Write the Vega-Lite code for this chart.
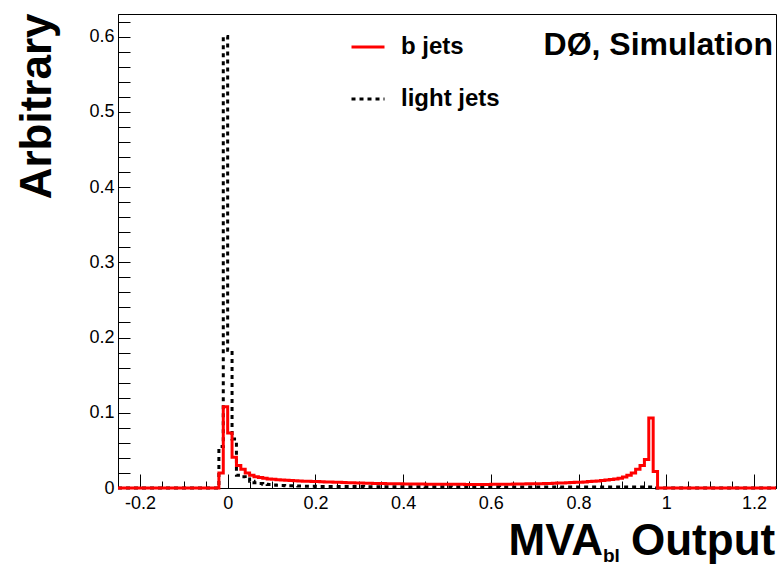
{
  "$schema": "https://vega.github.io/schema/vega-lite/v6.json",
  "width": 658,
  "height": 474,
  "autosize": "none",
  "padding": {"left": 118, "top": 14, "right": 6, "bottom": 78},
  "background": "white",
  "config": {
    "font": "Liberation Sans",
    "view": {"stroke": "black", "strokeWidth": 1},
    "axis": {"grid": false, "domainColor": "black", "tickColor": "black", "labelColor": "black", "titleColor": "black", "labelFont": "Liberation Sans", "titleFont": "Liberation Sans"}
  },
  "resolve": {"axis": {"x": "independent", "y": "independent"}},
  "layer": [
    {
      "data": {
        "values": [
          {"x": -0.25, "v": 0, "s": "light jets"},
          {"x": -0.02, "v": 0.055, "s": "light jets"},
          {"x": -0.01, "v": 0.6, "s": "light jets"},
          {"x": 0.0, "v": 0.183, "s": "light jets"},
          {"x": 0.01, "v": 0.065, "s": "light jets"},
          {"x": 0.02, "v": 0.017, "s": "light jets"},
          {"x": 0.03, "v": 0.015, "s": "light jets"},
          {"x": 0.04, "v": 0.012, "s": "light jets"},
          {"x": 0.05, "v": 0.009, "s": "light jets"},
          {"x": 0.06, "v": 0.007, "s": "light jets"},
          {"x": 0.07, "v": 0.006, "s": "light jets"},
          {"x": 0.08, "v": 0.005, "s": "light jets"},
          {"x": 0.09, "v": 0.0045, "s": "light jets"},
          {"x": 0.1, "v": 0.004, "s": "light jets"},
          {"x": 0.11, "v": 0.0037, "s": "light jets"},
          {"x": 0.12, "v": 0.0034, "s": "light jets"},
          {"x": 0.13, "v": 0.0031, "s": "light jets"},
          {"x": 0.14, "v": 0.0029, "s": "light jets"},
          {"x": 0.15, "v": 0.0027, "s": "light jets"},
          {"x": 0.16, "v": 0.0025, "s": "light jets"},
          {"x": 0.17, "v": 0.0024, "s": "light jets"},
          {"x": 0.18, "v": 0.0023, "s": "light jets"},
          {"x": 0.19, "v": 0.0022, "s": "light jets"},
          {"x": 0.2, "v": 0.0021, "s": "light jets"},
          {"x": 0.21, "v": 0.002, "s": "light jets"},
          {"x": 0.22, "v": 0.002, "s": "light jets"},
          {"x": 0.23, "v": 0.002, "s": "light jets"},
          {"x": 0.24, "v": 0.002, "s": "light jets"},
          {"x": 0.25, "v": 0.002, "s": "light jets"},
          {"x": 0.26, "v": 0.002, "s": "light jets"},
          {"x": 0.27, "v": 0.002, "s": "light jets"},
          {"x": 0.28, "v": 0.0019, "s": "light jets"},
          {"x": 0.29, "v": 0.0019, "s": "light jets"},
          {"x": 0.3, "v": 0.0019, "s": "light jets"},
          {"x": 0.31, "v": 0.0018, "s": "light jets"},
          {"x": 0.32, "v": 0.0018, "s": "light jets"},
          {"x": 0.33, "v": 0.0018, "s": "light jets"},
          {"x": 0.34, "v": 0.0018, "s": "light jets"},
          {"x": 0.35, "v": 0.0018, "s": "light jets"},
          {"x": 0.36, "v": 0.0018, "s": "light jets"},
          {"x": 0.37, "v": 0.0018, "s": "light jets"},
          {"x": 0.38, "v": 0.0017, "s": "light jets"},
          {"x": 0.39, "v": 0.0017, "s": "light jets"},
          {"x": 0.4, "v": 0.0017, "s": "light jets"},
          {"x": 0.41, "v": 0.0017, "s": "light jets"},
          {"x": 0.42, "v": 0.0017, "s": "light jets"},
          {"x": 0.43, "v": 0.0017, "s": "light jets"},
          {"x": 0.44, "v": 0.0017, "s": "light jets"},
          {"x": 0.45, "v": 0.0016, "s": "light jets"},
          {"x": 0.46, "v": 0.0016, "s": "light jets"},
          {"x": 0.47, "v": 0.0016, "s": "light jets"},
          {"x": 0.48, "v": 0.0016, "s": "light jets"},
          {"x": 0.49, "v": 0.0016, "s": "light jets"},
          {"x": 0.5, "v": 0.0016, "s": "light jets"},
          {"x": 0.51, "v": 0.0015, "s": "light jets"},
          {"x": 0.52, "v": 0.0015, "s": "light jets"},
          {"x": 0.53, "v": 0.0015, "s": "light jets"},
          {"x": 0.54, "v": 0.0015, "s": "light jets"},
          {"x": 0.55, "v": 0.0015, "s": "light jets"},
          {"x": 0.56, "v": 0.0015, "s": "light jets"},
          {"x": 0.57, "v": 0.0015, "s": "light jets"},
          {"x": 0.58, "v": 0.0015, "s": "light jets"},
          {"x": 0.59, "v": 0.0015, "s": "light jets"},
          {"x": 0.6, "v": 0.0015, "s": "light jets"},
          {"x": 0.61, "v": 0.0015, "s": "light jets"},
          {"x": 0.62, "v": 0.0014, "s": "light jets"},
          {"x": 0.63, "v": 0.0014, "s": "light jets"},
          {"x": 0.64, "v": 0.0014, "s": "light jets"},
          {"x": 0.65, "v": 0.0014, "s": "light jets"},
          {"x": 0.66, "v": 0.0014, "s": "light jets"},
          {"x": 0.67, "v": 0.0014, "s": "light jets"},
          {"x": 0.68, "v": 0.0014, "s": "light jets"},
          {"x": 0.69, "v": 0.0014, "s": "light jets"},
          {"x": 0.7, "v": 0.0014, "s": "light jets"},
          {"x": 0.71, "v": 0.0014, "s": "light jets"},
          {"x": 0.72, "v": 0.0014, "s": "light jets"},
          {"x": 0.73, "v": 0.0014, "s": "light jets"},
          {"x": 0.74, "v": 0.0014, "s": "light jets"},
          {"x": 0.75, "v": 0.0014, "s": "light jets"},
          {"x": 0.76, "v": 0.0013, "s": "light jets"},
          {"x": 0.77, "v": 0.0013, "s": "light jets"},
          {"x": 0.78, "v": 0.0013, "s": "light jets"},
          {"x": 0.79, "v": 0.0013, "s": "light jets"},
          {"x": 0.8, "v": 0.0013, "s": "light jets"},
          {"x": 0.81, "v": 0.0013, "s": "light jets"},
          {"x": 0.82, "v": 0.0013, "s": "light jets"},
          {"x": 0.83, "v": 0.0013, "s": "light jets"},
          {"x": 0.84, "v": 0.0013, "s": "light jets"},
          {"x": 0.85, "v": 0.0013, "s": "light jets"},
          {"x": 0.86, "v": 0.0013, "s": "light jets"},
          {"x": 0.87, "v": 0.0013, "s": "light jets"},
          {"x": 0.88, "v": 0.0013, "s": "light jets"},
          {"x": 0.89, "v": 0.0013, "s": "light jets"},
          {"x": 0.9, "v": 0.0013, "s": "light jets"},
          {"x": 0.91, "v": 0.0013, "s": "light jets"},
          {"x": 0.92, "v": 0.0013, "s": "light jets"},
          {"x": 0.93, "v": 0.0013, "s": "light jets"},
          {"x": 0.94, "v": 0.0013, "s": "light jets"},
          {"x": 0.95, "v": 0.0013, "s": "light jets"},
          {"x": 0.96, "v": 0.0013, "s": "light jets"},
          {"x": 0.97, "v": 0, "s": "light jets"},
          {"x": 1.25, "v": 0, "s": "light jets"},
          {"x": -0.25, "v": 0, "s": "b jets"},
          {"x": -0.02, "v": 0.02, "s": "b jets"},
          {"x": -0.01, "v": 0.108, "s": "b jets"},
          {"x": 0.0, "v": 0.073, "s": "b jets"},
          {"x": 0.01, "v": 0.041, "s": "b jets"},
          {"x": 0.02, "v": 0.03, "s": "b jets"},
          {"x": 0.03, "v": 0.025, "s": "b jets"},
          {"x": 0.04, "v": 0.02, "s": "b jets"},
          {"x": 0.05, "v": 0.017, "s": "b jets"},
          {"x": 0.06, "v": 0.015, "s": "b jets"},
          {"x": 0.07, "v": 0.014, "s": "b jets"},
          {"x": 0.08, "v": 0.013, "s": "b jets"},
          {"x": 0.09, "v": 0.012, "s": "b jets"},
          {"x": 0.1, "v": 0.0115, "s": "b jets"},
          {"x": 0.11, "v": 0.011, "s": "b jets"},
          {"x": 0.12, "v": 0.0106, "s": "b jets"},
          {"x": 0.13, "v": 0.0102, "s": "b jets"},
          {"x": 0.14, "v": 0.0099, "s": "b jets"},
          {"x": 0.15, "v": 0.0096, "s": "b jets"},
          {"x": 0.16, "v": 0.0093, "s": "b jets"},
          {"x": 0.17, "v": 0.0091, "s": "b jets"},
          {"x": 0.18, "v": 0.0089, "s": "b jets"},
          {"x": 0.19, "v": 0.0087, "s": "b jets"},
          {"x": 0.2, "v": 0.0085, "s": "b jets"},
          {"x": 0.21, "v": 0.0083, "s": "b jets"},
          {"x": 0.22, "v": 0.0081, "s": "b jets"},
          {"x": 0.23, "v": 0.0079, "s": "b jets"},
          {"x": 0.24, "v": 0.0077, "s": "b jets"},
          {"x": 0.25, "v": 0.0075, "s": "b jets"},
          {"x": 0.26, "v": 0.0073, "s": "b jets"},
          {"x": 0.27, "v": 0.0071, "s": "b jets"},
          {"x": 0.28, "v": 0.0069, "s": "b jets"},
          {"x": 0.29, "v": 0.0067, "s": "b jets"},
          {"x": 0.3, "v": 0.0065, "s": "b jets"},
          {"x": 0.31, "v": 0.0063, "s": "b jets"},
          {"x": 0.32, "v": 0.0062, "s": "b jets"},
          {"x": 0.33, "v": 0.0061, "s": "b jets"},
          {"x": 0.34, "v": 0.006, "s": "b jets"},
          {"x": 0.35, "v": 0.0059, "s": "b jets"},
          {"x": 0.36, "v": 0.0058, "s": "b jets"},
          {"x": 0.37, "v": 0.0057, "s": "b jets"},
          {"x": 0.38, "v": 0.0056, "s": "b jets"},
          {"x": 0.39, "v": 0.0055, "s": "b jets"},
          {"x": 0.4, "v": 0.0054, "s": "b jets"},
          {"x": 0.41, "v": 0.0053, "s": "b jets"},
          {"x": 0.42, "v": 0.0053, "s": "b jets"},
          {"x": 0.43, "v": 0.0052, "s": "b jets"},
          {"x": 0.44, "v": 0.0052, "s": "b jets"},
          {"x": 0.45, "v": 0.0051, "s": "b jets"},
          {"x": 0.46, "v": 0.0051, "s": "b jets"},
          {"x": 0.47, "v": 0.005, "s": "b jets"},
          {"x": 0.48, "v": 0.005, "s": "b jets"},
          {"x": 0.49, "v": 0.005, "s": "b jets"},
          {"x": 0.5, "v": 0.0049, "s": "b jets"},
          {"x": 0.51, "v": 0.0049, "s": "b jets"},
          {"x": 0.52, "v": 0.0049, "s": "b jets"},
          {"x": 0.53, "v": 0.0049, "s": "b jets"},
          {"x": 0.54, "v": 0.0048, "s": "b jets"},
          {"x": 0.55, "v": 0.0048, "s": "b jets"},
          {"x": 0.56, "v": 0.0048, "s": "b jets"},
          {"x": 0.57, "v": 0.0048, "s": "b jets"},
          {"x": 0.58, "v": 0.0048, "s": "b jets"},
          {"x": 0.59, "v": 0.0048, "s": "b jets"},
          {"x": 0.6, "v": 0.0049, "s": "b jets"},
          {"x": 0.61, "v": 0.0049, "s": "b jets"},
          {"x": 0.62, "v": 0.005, "s": "b jets"},
          {"x": 0.63, "v": 0.005, "s": "b jets"},
          {"x": 0.64, "v": 0.0051, "s": "b jets"},
          {"x": 0.65, "v": 0.0052, "s": "b jets"},
          {"x": 0.66, "v": 0.0053, "s": "b jets"},
          {"x": 0.67, "v": 0.0054, "s": "b jets"},
          {"x": 0.68, "v": 0.0055, "s": "b jets"},
          {"x": 0.69, "v": 0.0056, "s": "b jets"},
          {"x": 0.7, "v": 0.0057, "s": "b jets"},
          {"x": 0.71, "v": 0.0058, "s": "b jets"},
          {"x": 0.72, "v": 0.006, "s": "b jets"},
          {"x": 0.73, "v": 0.0061, "s": "b jets"},
          {"x": 0.74, "v": 0.0063, "s": "b jets"},
          {"x": 0.75, "v": 0.0065, "s": "b jets"},
          {"x": 0.76, "v": 0.0067, "s": "b jets"},
          {"x": 0.77, "v": 0.0069, "s": "b jets"},
          {"x": 0.78, "v": 0.0072, "s": "b jets"},
          {"x": 0.79, "v": 0.0075, "s": "b jets"},
          {"x": 0.8, "v": 0.0078, "s": "b jets"},
          {"x": 0.81, "v": 0.0081, "s": "b jets"},
          {"x": 0.82, "v": 0.0085, "s": "b jets"},
          {"x": 0.83, "v": 0.0089, "s": "b jets"},
          {"x": 0.84, "v": 0.0094, "s": "b jets"},
          {"x": 0.85, "v": 0.0099, "s": "b jets"},
          {"x": 0.86, "v": 0.0105, "s": "b jets"},
          {"x": 0.87, "v": 0.0112, "s": "b jets"},
          {"x": 0.88, "v": 0.012, "s": "b jets"},
          {"x": 0.89, "v": 0.013, "s": "b jets"},
          {"x": 0.9, "v": 0.0145, "s": "b jets"},
          {"x": 0.91, "v": 0.017, "s": "b jets"},
          {"x": 0.92, "v": 0.02, "s": "b jets"},
          {"x": 0.93, "v": 0.025, "s": "b jets"},
          {"x": 0.94, "v": 0.03, "s": "b jets"},
          {"x": 0.95, "v": 0.038, "s": "b jets"},
          {"x": 0.96, "v": 0.093, "s": "b jets"},
          {"x": 0.97, "v": 0.022, "s": "b jets"},
          {"x": 0.98, "v": 0, "s": "b jets"},
          {"x": 1.25, "v": 0, "s": "b jets"}
        ]
      },
      "mark": {"type": "line", "interpolate": "step-after", "strokeWidth": 3, "clip": false},
      "encoding": {
        "x": {
          "field": "x", "type": "quantitative",
          "scale": {"domain": [-0.25, 1.25], "nice": false, "zero": false},
          "axis": {"orient": "bottom", "values": [-0.2, 0, 0.2, 0.4, 0.6, 0.8, 1, 1.2], "labelExpr": "replace(format(datum.value, '~g'), '\u2212', '-')", "tickSize": -14, "tickWidth": 1, "labelPadding": 20, "labelFontSize": 18, "title": null, "domain": true, "domainWidth": 1}
        },
        "y": {
          "field": "v", "type": "quantitative",
          "scale": {"domain": [0, 0.63], "nice": false, "zero": true},
          "axis": {
            "orient": "left",
            "values": [0, 0.02, 0.04, 0.06, 0.08, 0.1, 0.12, 0.14, 0.16, 0.18, 0.2, 0.22, 0.24, 0.26, 0.28, 0.3, 0.32, 0.34, 0.36, 0.38, 0.4, 0.42, 0.44, 0.46, 0.48, 0.5, 0.52, 0.54, 0.56, 0.58, 0.6, 0.62],
            "labelExpr": "abs(datum.value * 10 - round(datum.value * 10)) < 0.001 ? format(datum.value, '~g') : ''",
            "tickSize": -12, "labelPadding": 16, "labelFontSize": 18,
            "title": "Arbitrary", "titleFontSize": 44, "titleFontWeight": "bold",
            "titleAngle": 270, "titleAlign": "right", "titleBaseline": "alphabetic",
            "titleX": -68, "titleY": -1, "domainWidth": 1
          }
        },
        "color": {
          "field": "s", "type": "nominal",
          "scale": {"domain": ["b jets", "light jets"], "range": ["#ff0000", "#000000"]},
          "legend": {
            "orient": "none", "legendX": 232, "legendY": 15, "title": null,
            "symbolType": "stroke", "symbolSize": 1089, "symbolStrokeWidth": 3,
            "labelFontSize": 24, "labelFontWeight": "bold", "labelFont": "Liberation Sans", "labelColor": "black",
            "rowPadding": 22, "labelOffset": 15
          }
        },
        "strokeDash": {
          "field": "s", "type": "nominal",
          "scale": {"domain": ["b jets", "light jets"], "range": [[1, 0], [4, 4]]}
        }
      }
    },
    {
      "data": {"values": [{}]},
      "mark": {"type": "text", "text": "DØ, Simulation", "align": "right", "baseline": "alphabetic", "fontSize": 32, "fontWeight": "bold", "font": "Liberation Sans", "color": "black"},
      "encoding": {
        "x": {"datum": 1.243, "axis": {"orient": "bottom", "values": [-0.25, -0.15, -0.1, -0.05, 0.05, 0.1, 0.15, 0.25, 0.3, 0.35, 0.45, 0.5, 0.55, 0.65, 0.7, 0.75, 0.85, 0.9, 0.95, 1.05, 1.1, 1.15, 1.25], "tickSize": -7, "labels": false, "domain": false, "title": null}},
        "y": {"datum": 0.5755, "axis": null}
      }
    },
    {
      "data": {"values": [{}]},
      "mark": {"type": "text", "text": "MVA", "align": "right", "baseline": "alphabetic", "fontSize": 44, "fontWeight": "bold", "font": "Liberation Sans", "color": "black"},
      "encoding": {
        "x": {"datum": 0.8556, "axis": null},
        "y": {"datum": -0.089, "axis": null}
      }
    },
    {
      "data": {"values": [{}]},
      "mark": {"type": "text", "text": "bl", "align": "left", "baseline": "alphabetic", "fontSize": 19, "fontWeight": "bold", "font": "Liberation Sans", "color": "black"},
      "encoding": {
        "x": {"datum": 0.8556, "axis": null},
        "y": {"datum": -0.0984, "axis": null}
      }
    },
    {
      "data": {"values": [{}]},
      "mark": {"type": "text", "text": "Output", "align": "left", "baseline": "alphabetic", "fontSize": 44, "fontWeight": "bold", "font": "Liberation Sans", "color": "black"},
      "encoding": {
        "x": {"datum": 0.9195, "axis": null},
        "y": {"datum": -0.089, "axis": null}
      }
    }
  ]
}
